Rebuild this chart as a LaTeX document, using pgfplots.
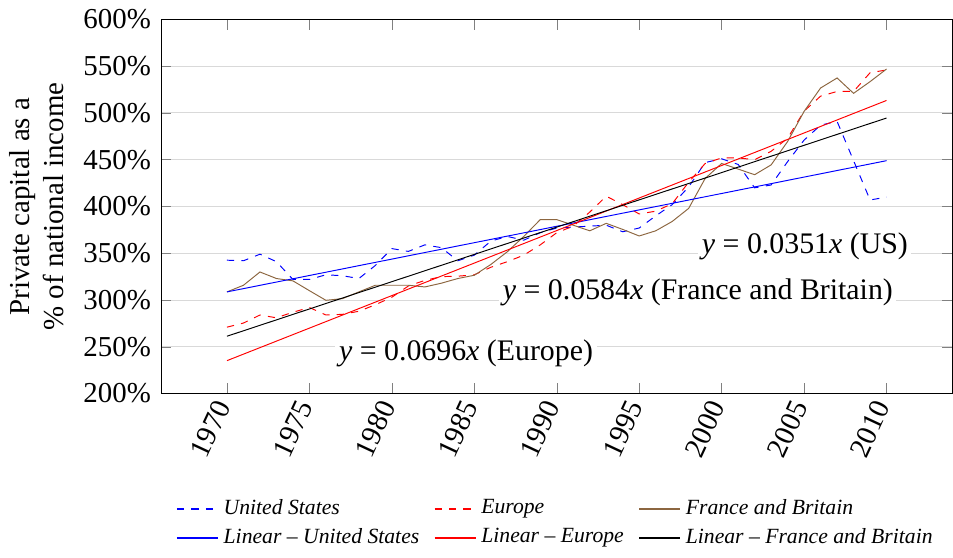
\documentclass[border=0pt,12pt]{standalone}
\usepackage{fontspec}
\setmainfont{Liberation Serif}
\usepackage{pgfplots}
\pgfplotsset{compat=1.18}
\definecolor{fbbrown}{rgb}{0.55,0.4,0.25}

\pgfplotstableread{
year us eu fb
1970 342.6 271 308.7
1971 342 275.4 315.8
1972 349 284 330
1973 341 281 323
1974 322 287 320.5
1975 322 292 310
1976 327 284 299.7
1977 326 284.7 301.5
1978 323 288 308.7
1979 337 295 315.8
1980 355 303 315.8
1981 352 315 315.8
1982 359 321 314
1983 356 325 318
1984 342 325.5 323
1985 348 327 326.5
1986 363 335 338
1987 368 341 351.6
1988 364 348 368
1989 372 359 386
1990 377 372 386
1991 378 379 380
1992 379 394 374
1993 380 411 382
1994 373 402 375.5
1995 377 392 368.5
1996 390 395 374
1997 402 403 384
1998 421 426 398
1999 447 446 430
2000 451 452 446
2001 445 452 440
2002 420 450 434
2003 423 459 444.5
2004 448 473 469.5
2005 471 502 501.7
2006 487 518 526.7
2007 491 523 537.4
2008 449 523 521
2009 407 543 533.5
2010 410 546 547
}\capdata

\begin{document}
\begin{tikzpicture}
\begin{axis}[
  scale only axis,
  width=328.75pt, height=155.4pt,
  xmin=1966, xmax=2014, ymin=200, ymax=600,
  xtick={1970,1975,...,2010},
  ytick={200,250,...,600},
  ymajorgrids,
  grid style={gray!30},
  tick align=inside,
  /pgf/number format/assume math mode=true,
  x tick label style={/pgf/number format/1000 sep={}, rotate=65, anchor=east, font=\fontsize{12}{14}\selectfont},
  y tick label style={font=\fontsize{12}{14}\selectfont},
  yticklabel={\pgfmathprintnumber[fixed,precision=0]{\tick}\%},
  ylabel={Private capital as a\\\% of national income},
  ylabel style={align=center, font=\fontsize{12}{14}\selectfont},
  legend columns=3,
  legend cell align=left,
  legend image post style={line width=0.7pt},
  legend style={at={(0.5,-0.255)}, anchor=north, draw=none,
    font=\fontsize{9}{11}\selectfont\itshape,
    /tikz/every even column/.append style={column sep=4pt}},
]
\addlegendimage{blue, dashed}
\addlegendentry{United States}
\addlegendimage{red, dashed}
\addlegendentry{Europe}
\addlegendimage{fbbrown, solid}
\addlegendentry{France and Britain}
\addlegendimage{blue, solid}
\addlegendentry{Linear -- United States}
\addlegendimage{red, solid}
\addlegendentry{Linear -- Europe}
\addlegendimage{black, solid}
\addlegendentry{Linear -- France and Britain}

\addplot[blue, dashed, forget plot] table[x=year, y=us] {\capdata};
\addplot[red, dashed, forget plot] table[x=year, y=eu] {\capdata};
\addplot[fbbrown, forget plot] table[x=year, y=fb] {\capdata};
\addplot[blue, solid, forget plot] coordinates {(1970,308.7) (2010,449)};
\addplot[red, solid, forget plot] coordinates {(1970,235.2) (2010,513.4)};
\addplot[black, solid, forget plot] coordinates {(1970,261.3) (2010,494.6)};

\node[fill=white, inner sep=1.5pt, font=\fontsize{12.4}{14}\selectfont] at (axis cs:2005.05,357.6) {\textit{y} = 0.0351\textit{x} (US)};
\node[fill=white, inner sep=1.5pt, font=\fontsize{12.4}{14}\selectfont] at (axis cs:1998.56,308.3) {\textit{y} = 0.0584\textit{x} (France and Britain)};
\node[fill=white, inner sep=1.5pt, font=\fontsize{12.4}{14}\selectfont] at (axis cs:1984.5,242.9) {\textit{y} = 0.0696\textit{x} (Europe)};
\end{axis}
\end{tikzpicture}
\end{document}
